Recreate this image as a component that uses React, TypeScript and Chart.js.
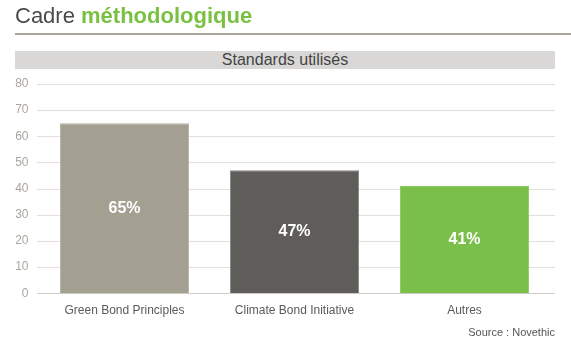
import React, { useEffect, useRef } from "react";
import { Chart, registerables } from "chart.js";

Chart.register(...registerables);

const categories = ["Green Bond Principles", "Climate Bond Initiative", "Autres"];
const values = [65, 47, 41];
const barColors = ["#a39f91", "#5f5d5a", "#7bbf4b"];
const barBorders = ["#b3afa3", "#8a8886", "#8ac85e"];
const yTicks = { min: 0, max: 80, step: 10 };

const FONT = "'Liberation Sans', Arial, Helvetica, sans-serif";

const gridPlugin = {
  id: "extGrid",
  beforeDatasetsDraw(chart: any) {
    const { ctx, scales } = chart;
    const y = scales.y;
    ctx.save();
    y.ticks.forEach((t: any) => {
      const py = Math.round(y.getPixelForValue(t.value)) + 0.5;
      ctx.strokeStyle = t.value === 0 ? "#cfcbc6" : "#e3e0dc";
      ctx.lineWidth = 1;
      ctx.beginPath();
      ctx.moveTo(37, py);
      ctx.lineTo(555, py);
      ctx.stroke();
    });
    ctx.restore();
  },
};

const valueLabelPlugin = {
  id: "valueLabels",
  afterDatasetsDraw(chart: any) {
    const { ctx } = chart;
    const meta = chart.getDatasetMeta(0);
    ctx.save();
    ctx.fillStyle = "#ffffff";
    ctx.font = `bold 16px ${FONT}`;
    ctx.textAlign = "center";
    ctx.textBaseline = "middle";
    meta.data.forEach((bar: any, i: number) => {
      const v = chart.data.datasets[0].data[i];
      ctx.fillText(`${v}%`, bar.x, (bar.y + bar.base) / 2);
    });
    ctx.restore();
  },
};

export default function App() {
  const canvasRef = useRef<HTMLCanvasElement | null>(null);

  useEffect(() => {
    document.body.style.margin = "0";
    const canvas = canvasRef.current;
    if (!canvas) return;
    const chart = new Chart(canvas, {
      type: "bar",
      data: {
        labels: categories,
        datasets: [
          {
            data: values,
            backgroundColor: barColors,
            borderColor: barBorders,
            borderWidth: 1,
            barPercentage: 0.76,
            categoryPercentage: 1,
          },
        ],
      },
      options: {
        responsive: false,
        animation: false,
        events: [],
        layout: { padding: { top: 84, right: 21.5, left: 0, bottom: 0 } },
        plugins: { legend: { display: false }, tooltip: { enabled: false } },
        scales: {
          x: {
            grid: { display: false, drawTicks: false },
            border: { display: false },
            ticks: {
              color: "#5a5a5a",
              font: { family: FONT, size: 12 },
              padding: 10,
              maxRotation: 0,
            },
            afterFit(scale: any) {
              scale.height = 356 - 293.3;
            },
          },
          y: {
            min: yTicks.min,
            max: yTicks.max,
            grid: { display: false, drawTicks: false },
            border: { display: false },
            ticks: {
              stepSize: yTicks.step,
              color: "#aaa69e",
              font: { family: FONT, size: 12 },
              padding: 11,
            },
            afterFit(scale: any) {
              scale.width = 39.5;
            },
          },
        },
      },
      plugins: [gridPlugin, valueLabelPlugin],
    });
    return () => chart.destroy();
  }, []);

  return (
    <div style={{ position: "relative", width: 571, height: 356, background: "#fff", fontFamily: FONT, overflow: "hidden" }}>
      <canvas ref={canvasRef} width={571} height={356} style={{ position: "absolute", left: 0, top: 0 }} />
      <div
        style={{
          position: "absolute",
          left: 15,
          top: 4,
          fontSize: 22,
          lineHeight: "24px",
          color: "#4a4a4a",
          whiteSpace: "nowrap",
        }}
      >
        Cadre <span style={{ color: "#7ac143", fontWeight: "bold" }}>méthodologique</span>
      </div>
      <div style={{ position: "absolute", left: 15, top: 33, width: 556, height: 2, background: "#a8a498" }} />
      <div
        style={{
          position: "absolute",
          left: 15,
          top: 51,
          width: 540,
          height: 18,
          background: "#d9d8d6",
          color: "#444444",
          fontSize: 16,
          lineHeight: "18px",
          textAlign: "center",
        }}
      >
        Standards utilisés
      </div>
      <div
        style={{
          position: "absolute",
          right: 16,
          top: 325,
          fontSize: 11,
          lineHeight: "14px",
          color: "#555555",
          whiteSpace: "nowrap",
        }}
      >
        Source : Novethic
      </div>
    </div>
  );
}
